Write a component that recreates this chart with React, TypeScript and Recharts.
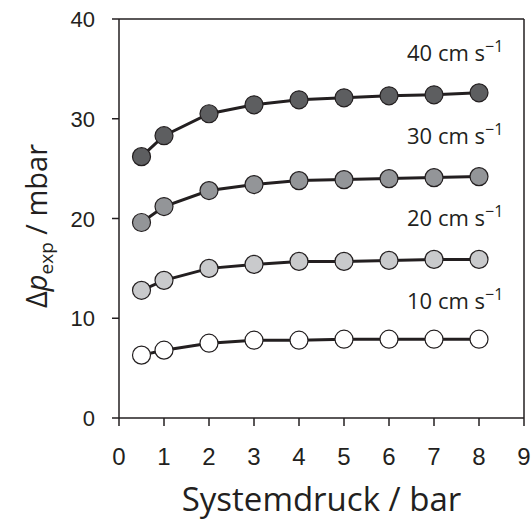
import { LineChart, Line, XAxis, YAxis, ReferenceLine, ReferenceDot } from 'recharts';

const pressures = [0.5, 1, 2, 3, 4, 5, 6, 7, 8];
const v40 = [26.2, 28.3, 30.5, 31.4, 31.9, 32.1, 32.3, 32.4, 32.6];
const v30 = [19.6, 21.2, 22.8, 23.4, 23.8, 23.9, 24.0, 24.1, 24.2];
const v20 = [12.8, 13.8, 15.0, 15.4, 15.7, 15.7, 15.8, 15.9, 15.9];
const v10 = [6.3, 6.8, 7.5, 7.8, 7.8, 7.9, 7.9, 7.9, 7.9];
const speeds = ['40', '30', '20', '10'];
const xTicks = [0, 1, 2, 3, 4, 5, 6, 7, 8, 9];
const yTicks = [0, 10, 20, 30, 40];

const INK = '#231f20';
const fills = ['#5d5e60', '#939598', '#c9cacc', '#ffffff'];
// anchor (left end of baseline) of each speed label, in data units
const labelAt = [
  { x: 6.4, y: 35.8 },
  { x: 6.4, y: 27.5 },
  { x: 6.4, y: 19.2 },
  { x: 6.4, y: 10.9 },
];

const toRows = (vals: number[]) => pressures.map((p, i) => ({ x: p, y: vals[i] }));
const series = [v40, v30, v20, v10].map(toRows);

const XTick = (props: any) => (
  <text x={props.x} y={props.y + 17} textAnchor="middle" fill={INK} fontFamily="Liberation Sans" fontSize={24}>
    {props.payload.value}
  </text>
);

const YTick = (props: any) => (
  <text x={props.x} y={props.y + 8} textAnchor="end" fill={INK} fontFamily="Liberation Sans" fontSize={22}>
    {props.payload.value}
  </text>
);

const speedShape = (text: string) => (props: any) => (
  <text x={props.cx} y={props.cy} fill={INK} fontFamily="Open Sans" fontSize={22}>
    {text} cm s
    <tspan dy={-9} fontSize={16}>−1</tspan>
  </text>
);

const YTitle = () => (
  <text
    transform="translate(47, 226) rotate(-90)"
    textAnchor="middle"
    fill={INK}
    fontFamily="Open Sans"
    fontSize={29}
  >
    Δ<tspan fontStyle="italic">p</tspan>
    <tspan fontSize={19} dy={6}>exp</tspan>
    <tspan dy={-6}> / mbar</tspan>
  </text>
);

export default function App() {
  return (
    <div style={{ position: 'absolute', left: 0, top: 0, background: '#fff' }}>
      <LineChart width={531} height={525} margin={{ top: 19, right: 7, bottom: 0, left: 0 }}>
        <XAxis
          type="number"
          dataKey="x"
          domain={[0, 9]}
          ticks={xTicks}
          allowDataOverflow
          stroke={INK}
          strokeWidth={1.5}
          tickSize={8}
          tickMargin={22}
          height={107}
          tick={<XTick />}
          label={{
            value: 'Systemdruck / bar',
            position: 'insideBottom',
            offset: 14,
            fill: INK,
            fontFamily: 'Open Sans',
            fontSize: 33,
          }}
        />
        <YAxis
          type="number"
          domain={[0, 40]}
          ticks={yTicks}
          stroke={INK}
          strokeWidth={1.5}
          tickSize={7}
          tickMargin={17}
          width={119}
          tick={<YTick />}
          label={<YTitle />}
        />
        <ReferenceLine y={40} stroke={INK} strokeWidth={1.5} />
        <ReferenceLine x={9} stroke={INK} strokeWidth={1.5} />
        {series.map((rows, i) => (
          <Line
            key={speeds[i]}
            data={rows}
            dataKey="y"
            type="linear"
            stroke={INK}
            strokeWidth={3}
            dot={{ r: 9, fill: fills[i], stroke: INK, strokeWidth: 1.2 }}
            activeDot={false}
            isAnimationActive={false}
          />
        ))}
        {speeds.map((s, i) => (
          <ReferenceDot
            key={'lbl' + s}
            x={labelAt[i].x}
            y={labelAt[i].y}
            r={1}
            shape={speedShape(s)}
          />
        ))}
      </LineChart>
    </div>
  );
}
